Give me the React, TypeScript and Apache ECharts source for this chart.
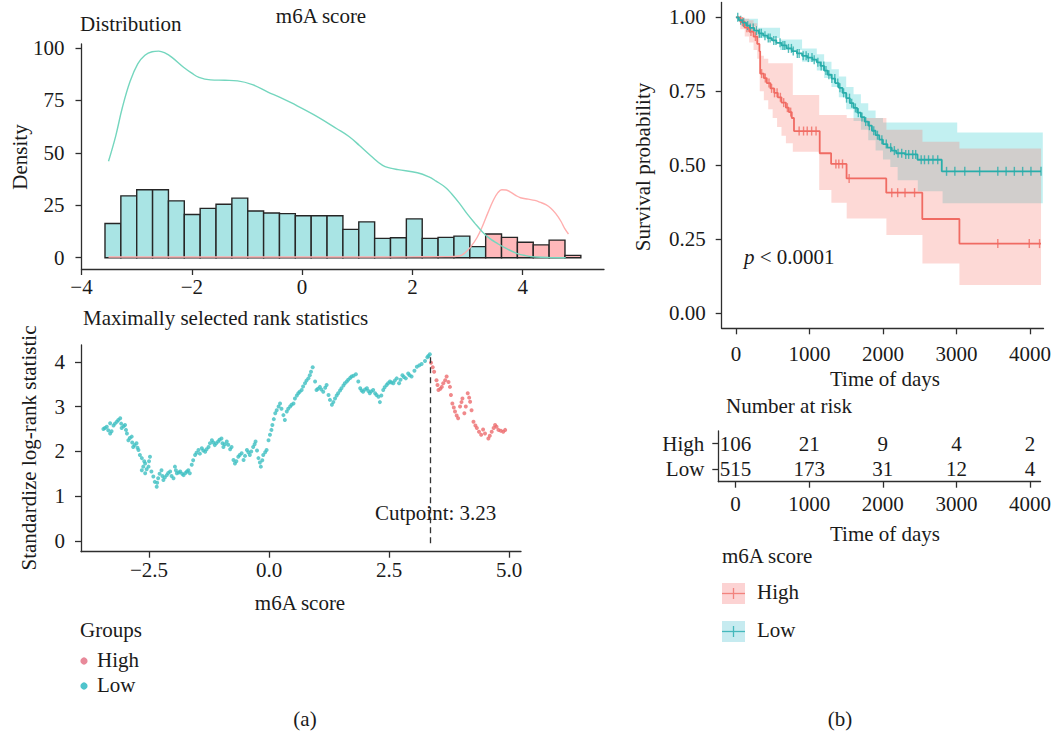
import React, { useEffect, useRef } from "react";
import * as echarts from "echarts";

const FONT = "'Liberation Serif', 'DejaVu Serif', serif";
const FS = 21;
const TXT = "#1a1a1a";
const AX = "#2e2e2e";

// ---------- Panel (a) top: distribution ----------
const histRange = [-3.574, 5.054];
const histCounts = [16.3, 29.5, 32.4, 32.4, 27.1, 20.6, 23.5, 25.5, 28.4, 22.3, 21.3, 21.0, 20.0, 20.0, 20.0, 13.5, 17.1, 9.2, 9.5, 18.5, 9.2, 9.7, 10.3, 5.3, 11.3, 9.7, 7.4, 6.1, 8.4, 1.1];
const histGroups = ["Low", "Low", "Low", "Low", "Low", "Low", "Low", "Low", "Low", "Low", "Low", "Low", "Low", "Low", "Low", "Low", "Low", "Low", "Low", "Low", "Low", "Low", "Low", "Low", "High", "High", "High", "High", "High", "High"];
const densityLow = [[-3.51, 46], [-3.38, 58], [-3.26, 71.5], [-3.12, 84], [-2.98, 92.4], [-2.85, 96.5], [-2.72, 98.2], [-2.6, 98.5], [-2.48, 97.5], [-2.36, 95.5], [-2.15, 90.8], [-2.0, 88], [-1.87, 86], [-1.66, 84.8], [-1.4, 84.6], [-1.17, 84.3], [-0.9, 82.5], [-0.62, 79], [-0.4, 76.5], [-0.2, 73.9], [0.21, 68.2], [0.63, 61.5], [0.85, 57.8], [1.04, 53.5], [1.25, 48.5], [1.46, 44], [1.6, 42.7], [1.74, 42], [2.09, 40.5], [2.3, 38.5], [2.43, 36.5], [2.6, 33.5], [2.71, 30.5], [2.85, 26], [2.99, 21], [3.13, 16.5], [3.27, 12.3], [3.4, 9.2], [3.54, 6.8], [3.7, 4.4], [3.89, 2.1], [4.05, 1.0], [4.24, 0.3], [4.5, 0.05], [4.78, 0]];
const densityHigh = [[-3.51, 0.3], [-2.5, 0.3], [-1.5, 0.3], [0, 0.3], [1.0, 0.3], [2.0, 0.4], [2.6, 0.5], [2.85, 0.8], [2.96, 2.5], [3.06, 5.3], [3.17, 9.5], [3.27, 15], [3.37, 21.5], [3.47, 27.5], [3.55, 31], [3.62, 32.4], [3.7, 32.3], [3.78, 31.3], [3.88, 29.6], [3.96, 28.6], [4.1, 27.9], [4.22, 27.3], [4.31, 26.5], [4.42, 25.3], [4.51, 23.6], [4.6, 21], [4.69, 17.5], [4.76, 14], [4.83, 11.3]];
const histXTicks = [-4, -2, 0, 2, 4];
const histYTicks = [0, 25, 50, 75, 100];

// ---------- Panel (a) bottom: maximally selected rank statistics ----------
const rankLow = [[-3.45, 2.5], [-3.42, 2.52], [-3.38, 2.55], [-3.35, 2.47], [-3.31, 2.63], [-3.31, 2.4], [-3.28, 2.45], [-3.24, 2.58], [-3.21, 2.62], [-3.17, 2.66], [-3.14, 2.7], [-3.1, 2.74], [-3.08, 2.62], [-3.07, 2.52], [-3.03, 2.56], [-3.0, 2.59], [-2.98, 2.48], [-2.96, 2.4], [-2.93, 2.25], [-2.9, 2.3], [-2.86, 2.33], [-2.85, 2.2], [-2.83, 2.1], [-2.8, 2.14], [-2.76, 2.18], [-2.74, 2.08], [-2.72, 2.03], [-2.69, 1.92], [-2.65, 1.85], [-2.65, 1.58], [-2.62, 1.66], [-2.6, 1.78], [-2.58, 1.73], [-2.58, 1.51], [-2.55, 1.6], [-2.51, 1.66], [-2.5, 1.78], [-2.48, 1.88], [-2.45, 1.55], [-2.41, 1.44], [-2.38, 1.32], [-2.34, 1.21], [-2.33, 1.3], [-2.31, 1.4], [-2.28, 1.5], [-2.24, 1.58], [-2.22, 1.45], [-2.2, 1.36], [-2.17, 1.42], [-2.13, 1.47], [-2.1, 1.52], [-2.06, 1.55], [-2.03, 1.45], [-1.99, 1.4], [-1.96, 1.66], [-1.94, 1.58], [-1.92, 1.51], [-1.88, 1.53], [-1.85, 1.55], [-1.81, 1.5], [-1.78, 1.47], [-1.74, 1.52], [-1.71, 1.55], [-1.68, 1.58], [-1.65, 1.51], [-1.61, 1.7], [-1.58, 1.8], [-1.54, 1.92], [-1.51, 1.97], [-1.47, 2.03], [-1.44, 1.95], [-1.4, 2.07], [-1.37, 2.02], [-1.33, 1.99], [-1.3, 2.05], [-1.26, 2.1], [-1.23, 2.18], [-1.19, 2.25], [-1.16, 2.2], [-1.13, 2.14], [-1.1, 2.18], [-1.06, 2.22], [-1.03, 2.26], [-0.99, 2.29], [-0.97, 2.18], [-0.95, 2.1], [-0.92, 2.16], [-0.88, 2.22], [-0.85, 2.15], [-0.81, 2.05], [-0.78, 2.1], [-0.74, 1.81], [-0.71, 1.73], [-0.68, 1.78], [-0.64, 1.88], [-0.61, 1.92], [-0.57, 1.96], [-0.53, 1.81], [-0.5, 1.9], [-0.46, 2.03], [-0.43, 1.98], [-0.4, 1.92], [-0.37, 2.0], [-0.33, 2.1], [-0.3, 2.16], [-0.28, 2.22], [-0.25, 2.02], [-0.22, 1.85], [-0.19, 1.75], [-0.17, 1.66], [-0.14, 1.8], [-0.12, 1.92], [-0.08, 1.98], [-0.05, 2.03], [-0.01, 2.25], [0.02, 2.37], [0.05, 2.48], [0.07, 2.59], [0.1, 2.72], [0.13, 2.85], [0.16, 2.92], [0.2, 3.0], [0.23, 3.07], [0.26, 2.95], [0.3, 2.81], [0.33, 2.7], [0.37, 2.89], [0.4, 2.95], [0.44, 3.0], [0.47, 3.04], [0.51, 3.07], [0.54, 3.18], [0.58, 3.25], [0.61, 3.3], [0.64, 3.33], [0.68, 3.37], [0.71, 3.45], [0.75, 3.52], [0.78, 3.58], [0.82, 3.63], [0.85, 3.7], [0.875, 3.78], [0.91, 3.88], [0.96, 3.56], [0.99, 3.37], [1.02, 3.4], [1.06, 3.44], [1.09, 3.38], [1.13, 3.33], [1.17, 3.42], [1.2, 3.48], [1.24, 3.26], [1.27, 3.15], [1.31, 3.04], [1.34, 3.1], [1.375, 3.18], [1.41, 3.25], [1.44, 3.3], [1.48, 3.36], [1.51, 3.41], [1.55, 3.47], [1.58, 3.52], [1.62, 3.56], [1.65, 3.6], [1.69, 3.64], [1.72, 3.67], [1.76, 3.69], [1.81, 3.72], [1.86, 3.56], [1.9, 3.41], [1.93, 3.36], [1.96, 3.33], [2.0, 3.38], [2.04, 3.41], [2.07, 3.35], [2.1, 3.3], [2.13, 3.34], [2.17, 3.37], [2.21, 3.3], [2.24, 3.26], [2.28, 3.22], [2.31, 3.1], [2.34, 3.25], [2.38, 3.37], [2.41, 3.43], [2.45, 3.48], [2.48, 3.52], [2.52, 3.56], [2.55, 3.54], [2.59, 3.52], [2.62, 3.58], [2.66, 3.63], [2.71, 3.52], [2.74, 3.6], [2.78, 3.7], [2.81, 3.66], [2.85, 3.63], [2.9, 3.74], [2.93, 3.7], [2.97, 3.67], [3.03, 3.8], [3.08, 3.89], [3.13, 3.92], [3.18, 3.95], [3.25, 4.02], [3.3, 4.1], [3.32, 4.13], [3.35, 4.17]];
const rankHigh = [[3.375, 3.98], [3.41, 3.88], [3.44, 3.78], [3.49, 3.59], [3.51, 3.48], [3.53, 3.37], [3.57, 3.4], [3.6, 3.44], [3.63, 3.52], [3.67, 3.59], [3.7, 3.67], [3.74, 3.55], [3.77, 3.44], [3.79, 3.26], [3.82, 3.07], [3.85, 2.98], [3.875, 2.89], [3.91, 2.8], [3.94, 2.74], [3.98, 3.0], [4.01, 3.1], [4.03, 3.18], [4.07, 2.85], [4.1, 3.0], [4.14, 3.3], [4.17, 3.2], [4.19, 3.11], [4.22, 2.92], [4.26, 2.66], [4.3, 2.58], [4.33, 2.52], [4.375, 2.44], [4.42, 2.37], [4.46, 2.49], [4.5, 2.4], [4.57, 2.29], [4.6, 2.35], [4.64, 2.44], [4.68, 2.52], [4.71, 2.59], [4.74, 2.55], [4.78, 2.48], [4.83, 2.46], [4.88, 2.44], [4.92, 2.48]];
const cutLine = [3.35, -0.05, 4.19];
const rankXTicks = [-2.5, 0, 2.5, 5];
const rankYTicks = [0, 1, 2, 3, 4];

// ---------- Panel (b): Kaplan-Meier ----------
const kmLow = [[0, 1.0], [40, 0.99], [90, 0.982], [140, 0.972], [190, 0.964], [250, 0.955], [310, 0.946], [370, 0.938], [430, 0.93], [490, 0.922], [550, 0.914], [620, 0.905], [690, 0.895], [760, 0.886], [830, 0.878], [900, 0.87], [970, 0.864], [1040, 0.857], [1100, 0.848], [1150, 0.836], [1200, 0.82], [1250, 0.806], [1300, 0.793], [1350, 0.778], [1400, 0.762], [1450, 0.745], [1500, 0.727], [1550, 0.71], [1600, 0.694], [1650, 0.678], [1700, 0.663], [1750, 0.648], [1800, 0.634], [1850, 0.617], [1900, 0.602], [1950, 0.587], [2000, 0.572], [2060, 0.56], [2120, 0.55], [2180, 0.541], [2300, 0.537], [2470, 0.519], [2800, 0.48], [4150, 0.48]];
const kmHigh = [[0, 1.0], [60, 0.985], [120, 0.965], [180, 0.952], [240, 0.935], [290, 0.91], [320, 0.885], [330, 0.81], [380, 0.795], [420, 0.778], [470, 0.76], [520, 0.745], [570, 0.73], [620, 0.712], [680, 0.695], [720, 0.68], [760, 0.66], [790, 0.616], [1140, 0.541], [1295, 0.505], [1505, 0.456], [2045, 0.408], [2535, 0.319], [3040, 0.236], [4150, 0.236]];
const bandLow = [[0, 1.0, 1.0], [100, 0.97, 0.995], [300, 0.93, 0.965], [600, 0.89, 0.925], [900, 0.85, 0.895], [1100, 0.82, 0.875], [1200, 0.795, 0.85], [1300, 0.765, 0.825], [1400, 0.73, 0.8], [1500, 0.69, 0.765], [1600, 0.65, 0.74], [1700, 0.62, 0.71], [1800, 0.585, 0.685], [1900, 0.55, 0.66], [2000, 0.52, 0.645], [2100, 0.495, 0.645], [2200, 0.45, 0.645], [2474, 0.413, 0.645], [2811, 0.372, 0.645], [3010, 0.372, 0.611], [4174, 0.372, 0.611]];
const bandHigh = [[0, 1.0, 1.0], [60, 0.96, 1.0], [120, 0.935, 0.995], [180, 0.915, 0.99], [240, 0.89, 0.98], [290, 0.86, 0.96], [324, 0.75, 0.87], [380, 0.72, 0.86], [440, 0.69, 0.845], [500, 0.66, 0.845], [560, 0.63, 0.845], [620, 0.6, 0.845], [680, 0.575, 0.845], [774, 0.546, 0.738], [1133, 0.417, 0.67], [1299, 0.374, 0.67], [1507, 0.321, 0.66], [2047, 0.265, 0.62], [2537, 0.169, 0.58], [3040, 0.096, 0.557], [4150, 0.096, 0.557]];
const censorLow = [25, 65, 105, 160, 195, 235, 280, 320, 345, 395, 440, 465, 515, 545, 600, 640, 665, 715, 755, 780, 835, 860, 915, 955, 985, 1035, 1065, 1115, 1160, 1195, 1225, 1265, 1305, 1345, 1385, 1415, 1465, 1505, 1545, 1575, 1625, 1665, 1715, 1765, 1815, 1875, 1925, 1985, 2045, 2105, 2155, 2205, 2255, 2310, 2350, 2405, 2445, 2520, 2565, 2620, 2680, 2745, 2865, 2978, 3113, 3315, 3562, 3675, 3787, 3900, 4013, 4150];
const censorHigh = [90, 150, 205, 265, 350, 400, 450, 485, 525, 560, 605, 650, 700, 745, 860, 920, 970, 1030, 1090, 1360, 1400, 1450, 1540, 2120, 2200, 2300, 2430, 3562, 3990, 4130];
const kmXTicks = [0, 1000, 2000, 3000, 4000];
const kmYTicks = [0, 0.25, 0.5, 0.75, 1];
const riskTimes = [0, 1000, 2000, 3000, 4000];
const riskHigh = [106, 21, 9, 4, 2];
const riskLow = [515, 173, 31, 12, 4];
const riskGroups = ["Low", "High"];

// ---------- colours ----------
const C_HIST_LOW = "#A9E4E4";
const C_HIST_HIGH = "#FFB8BA";
const C_DENS_LOW = "#74D6BE";
const C_DENS_HIGH = "#FFAEAE";
const C_PT_LOW = "#3DBFC2";
const C_PT_HIGH = "#EC6B6E";
const C_KM_LOW = "#28ADAA";
const C_KM_HIGH = "#F06B63";

const minus = (s: string) => s.replace("-", "\u2212");

function vAxis(gridIndex: number, min: number, max: number, ticks: number[], fmt: (v: number) => string, margin: number) {
  return {
    type: "value",
    gridIndex,
    min,
    max,
    splitLine: { show: false },
    axisLine: { show: true, onZero: false, lineStyle: { color: AX, width: 1.3 } },
    axisTick: { show: true, length: 6, customValues: ticks, lineStyle: { color: AX, width: 1.3 } },
    axisLabel: { customValues: ticks, formatter: fmt, fontFamily: FONT, fontSize: FS, color: TXT, margin },
  };
}

function txt(text: string, x: number, y: number, align = "left", extra: any = {}) {
  return {
    type: "text",
    x,
    y,
    rotation: extra.rotation || 0,
    style: {
      text,
      fontFamily: FONT,
      fontSize: extra.fontSize || FS,
      fill: TXT,
      align,
      verticalAlign: "middle",
      rich: extra.rich,
    },
  };
}

function survAt(curve: number[][], t: number) {
  let s = curve[0][1];
  for (const [ti, si] of curve) if (ti <= t) s = si;
  return s;
}

function stepBand(band: number[][]) {
  const up: number[][] = [];
  const lo: number[][] = [];
  band.forEach(([t, l, h], i) => {
    if (i > 0) {
      up.push([t, band[i - 1][2]]);
      lo.push([t, band[i - 1][1]]);
    }
    up.push([t, h]);
    lo.push([t, l]);
  });
  return up.concat(lo.reverse());
}

function bandSeries(band: number[][], fill: string) {
  const poly = stepBand(band);
  return {
    type: "custom",
    xAxisIndex: 2,
    yAxisIndex: 2,
    silent: true,
    data: [[band[0][0], band[0][2]]],
    renderItem: (_p: any, api: any) => ({
      type: "polygon",
      shape: { points: poly.map((pt) => api.coord(pt)) },
      style: { fill },
    }),
  };
}

export default function App() {
  const ref = useRef<HTMLDivElement>(null);
  useEffect(() => {
    const chart = echarts.init(ref.current!, null, { renderer: "svg" });
    const bw = (histRange[1] - histRange[0]) / histCounts.length;
    const histData = histCounts.map((c, i) => [histRange[0] + i * bw, histRange[0] + (i + 1) * bw, c, histGroups[i] === "High" ? 1 : 0]);
    const riskData: any[] = [];
    riskTimes.forEach((t, i) => {
      riskData.push([t, 1, riskHigh[i]]);
      riskData.push([t, 0, riskLow[i]]);
    });

    const option: any = {
      animation: false,
      backgroundColor: "#ffffff",
      textStyle: { fontFamily: FONT },
      grid: [
        { left: 81.5, top: 44, width: 522.5, height: 225 },
        { left: 81, top: 345, width: 440, height: 206.7 },
        { left: 721.7, top: 2.5, width: 324.3, height: 325.8 },
        { left: 718.3, top: 431, width: 324.4, height: 50.7 },
      ],
      xAxis: [
        vAxis(0, -4, 5.474, histXTicks, (v) => minus(String(v)), 7),
        vAxis(1, -3.917, 5.25, rankXTicks, (v) => minus(v.toFixed(1)), 8),
        vAxis(2, -193.2, 4183.6, kmXTicks, (v) => String(v), 15),
        vAxis(3, -235, 4143, kmXTicks, (v) => String(v), 12),
      ],
      yAxis: [
        vAxis(0, -5.39, 101.9, histYTicks, (v) => String(v), 17),
        vAxis(1, -0.239, 4.375, rankYTicks, (v) => String(v), 16),
        vAxis(2, -0.05, 1.05, kmYTicks, (v) => v.toFixed(2), 16),
        {
          type: "category",
          gridIndex: 3,
          data: riskGroups,
          axisLine: { show: true, onZero: false, lineStyle: { color: AX, width: 1.3 } },
          axisTick: { show: true, alignWithLabel: true, interval: 0, length: 6, lineStyle: { color: AX, width: 1.3 } },
          axisLabel: { interval: 0, fontFamily: FONT, fontSize: FS, color: TXT, margin: 14 },
          splitLine: { show: false },
        },
      ],
      series: [
        {
          type: "custom",
          xAxisIndex: 0,
          yAxisIndex: 0,
          data: histData,
          encode: { x: [0, 1], y: 2 },
          renderItem: (_p: any, api: any) => {
            const a = api.coord([api.value(0), 0]);
            const b = api.coord([api.value(1), api.value(2)]);
            return {
              type: "rect",
              shape: { x: a[0], y: b[1], width: b[0] - a[0], height: a[1] - b[1] },
              style: { fill: api.value(3) ? C_HIST_HIGH : C_HIST_LOW, stroke: "#262626", lineWidth: 1.4 },
            };
          },
        },
        { type: "line", xAxisIndex: 0, yAxisIndex: 0, data: densityHigh, smooth: 0.4, symbol: "none", lineStyle: { color: C_DENS_HIGH, width: 1.4 } },
        { type: "line", xAxisIndex: 0, yAxisIndex: 0, data: densityLow, smooth: 0.4, symbol: "none", lineStyle: { color: C_DENS_LOW, width: 1.4 } },
        { type: "scatter", xAxisIndex: 1, yAxisIndex: 1, data: rankLow, symbolSize: 4, itemStyle: { color: C_PT_LOW } },
        {
          type: "scatter",
          xAxisIndex: 1,
          yAxisIndex: 1,
          data: rankHigh,
          symbolSize: 4,
          itemStyle: { color: C_PT_HIGH },
          markLine: {
            silent: true,
            symbol: "none",
            label: { show: false },
            lineStyle: { color: "#333", width: 1.3, type: [6, 4] },
            data: [[{ coord: [cutLine[0], cutLine[1]] }, { coord: [cutLine[0], cutLine[2]] }]],
          },
        },
        bandSeries(bandLow, "rgba(0,191,196,0.24)"),
        bandSeries(bandHigh, "rgba(248,118,109,0.28)"),
        { type: "line", xAxisIndex: 2, yAxisIndex: 2, data: kmHigh, step: "end", symbol: "none", lineStyle: { color: C_KM_HIGH, width: 1.8 } },
        { type: "line", xAxisIndex: 2, yAxisIndex: 2, data: kmLow, step: "end", symbol: "none", lineStyle: { color: C_KM_LOW, width: 1.8 } },
        { type: "scatter", xAxisIndex: 2, yAxisIndex: 2, data: censorHigh.map((t) => [t, survAt(kmHigh, t)]), symbol: "rect", symbolSize: [1.4, 9], itemStyle: { color: C_KM_HIGH } },
        { type: "scatter", xAxisIndex: 2, yAxisIndex: 2, data: censorLow.map((t) => [t, survAt(kmLow, t)]), symbol: "rect", symbolSize: [1.4, 9], itemStyle: { color: C_KM_LOW } },
        {
          type: "custom",
          xAxisIndex: 3,
          yAxisIndex: 3,
          data: riskData,
          encode: { x: 0, y: 1 },
          renderItem: (_p: any, api: any) => {
            const p = api.coord([api.value(0), api.value(1)]);
            return {
              type: "text",
              x: p[0],
              y: p[1],
              style: { text: String(api.value(2)), fontFamily: FONT, fontSize: FS, fill: TXT, align: "center", verticalAlign: "middle" },
            };
          },
        },
      ],
      graphic: [
        txt("Distribution", 80, 24),
        txt("m6A score", 321, 16, "center"),
        txt("Density", 20, 157, "center", { rotation: Math.PI / 2 }),
        txt("Maximally selected rank statistics", 83, 318),
        txt("Standardize log-rank statistic", 29, 448, "center", { rotation: Math.PI / 2 }),
        txt("m6A score", 300, 603, "center"),
        txt("Cutpoint: 3.23", 375, 513),
        txt("Groups", 80, 630),
        { type: "circle", shape: { cx: 84, cy: 661, r: 3.6 }, style: { fill: "#E8899A" } },
        txt("High", 97, 660),
        { type: "circle", shape: { cx: 84, cy: 686, r: 3.6 }, style: { fill: "#4FC4CC" } },
        txt("Low", 97, 685),
        txt("(a)", 305, 719, "center"),
        txt("Survival probability", 643, 167, "center", { rotation: Math.PI / 2 }),
        txt("Time of days", 885, 379, "center"),
        txt("{i|p} < 0.0001", 744, 257, "left", { rich: { i: { fontStyle: "italic", fontFamily: FONT, fontSize: FS, fill: TXT } } }),
        txt("Number at risk", 726, 406),
        txt("Time of days", 885, 534, "center"),
        txt("m6A score", 722, 556),
        { type: "rect", shape: { x: 722, y: 583, width: 23, height: 21 }, style: { fill: "#FCD3D3" } },
        { type: "line", shape: { x1: 722, y1: 593.5, x2: 745, y2: 593.5 }, style: { stroke: "#F2837D", lineWidth: 1.3 } },
        { type: "line", shape: { x1: 733.5, y1: 588, x2: 733.5, y2: 599 }, style: { stroke: "#F2837D", lineWidth: 1.3 } },
        txt("High", 757, 592),
        { type: "rect", shape: { x: 722, y: 621, width: 23, height: 21 }, style: { fill: "#C6EBF0" } },
        { type: "line", shape: { x1: 722, y1: 631.5, x2: 745, y2: 631.5 }, style: { stroke: "#45B8BC", lineWidth: 1.3 } },
        { type: "line", shape: { x1: 733.5, y1: 626, x2: 733.5, y2: 637 }, style: { stroke: "#45B8BC", lineWidth: 1.3 } },
        txt("Low", 757, 630),
        txt("(b)", 840, 719, "center"),
      ],
    };
    chart.setOption(option);
    return () => chart.dispose();
  }, []);
  return <div ref={ref} style={{ position: "absolute", left: 0, top: 0, width: 1054, height: 735, background: "#fff" }} />;
}
